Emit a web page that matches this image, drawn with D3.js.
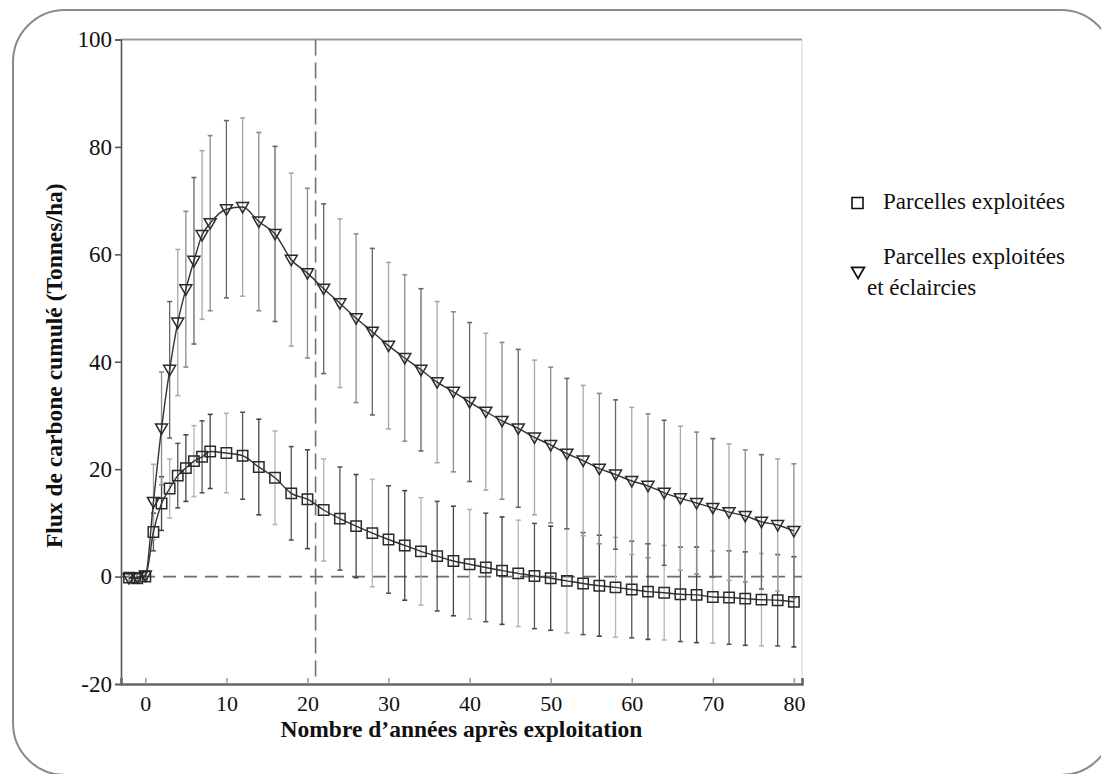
<!DOCTYPE html>
<html>
<head>
<meta charset="utf-8">
<script src="https://cdn.jsdelivr.net/npm/d3@7"></script>
<style>
  html, body { margin: 0; padding: 0; background: #fff; }
  svg { display: block; }
  text { font-family: "Liberation Serif", "Times New Roman", serif; fill: #111; }
</style>
</head>
<body>
<svg id="chart" width="1101" height="774"></svg>
<script>
// ---- data ----
const years = [-2, -1, 0, 1, 2, 3, 4, 5, 6, 7, 8,
  10, 12, 14, 16, 18, 20, 22, 24, 26, 28, 30, 32, 34, 36, 38, 40,
  42, 44, 46, 48, 50, 52, 54, 56, 58, 60, 62, 64, 66, 68, 70, 72, 74, 76, 78, 80];

const exploitees = [-0.2, -0.3, 0.0, 8.3, 13.6, 16.4, 18.8, 20.2, 21.5, 22.3, 23.3,
  23.0, 22.5, 20.4, 18.4, 15.5, 14.4, 12.4, 10.8, 9.4, 8.1, 6.9, 5.8, 4.7, 3.8, 2.9, 2.3,
  1.7, 1.1, 0.6, 0.1, -0.3, -0.8, -1.3, -1.7, -2.0, -2.4, -2.8, -3.0, -3.3, -3.4, -3.8, -3.9, -4.1, -4.3, -4.4, -4.7];
const exploiteesErr = [0.8, 0.8, 0.8, 3.5, 5.0, 5.5, 6.0, 6.2, 6.6, 6.7, 6.9,
  7.4, 8.1, 8.9, 8.7, 8.7, 9.2, 9.5, 9.6, 9.6, 10.0, 10.0, 10.2, 10.0, 10.2, 10.2, 10.2,
  10.1, 10.0, 9.9, 9.8, 9.7, 9.7, 9.5, 9.4, 9.3, 9.0, 8.9, 8.8, 8.8, 8.9, 8.6, 8.7, 8.7, 8.6, 8.5, 8.4];

const eclaircies = [-0.3, -0.1, 0.2, 13.9, 27.6, 38.5, 47.3, 53.5, 58.8, 63.6, 65.8,
  68.4, 68.8, 66.1, 63.8, 59.0, 56.5, 53.6, 50.9, 48.1, 45.6, 43.0, 40.7, 38.5, 36.2, 34.4, 32.5,
  30.7, 29.0, 27.6, 25.9, 24.5, 22.9, 21.6, 20.1, 19.0, 17.8, 16.9, 15.6, 14.6, 13.7, 12.8, 12.0, 11.3, 10.2, 9.6, 8.5];
const eclairciesErr = [0.8, 0.8, 0.8, 7.0, 10.5, 12.7, 13.6, 14.5, 15.5, 15.7, 16.3,
  16.5, 16.6, 16.6, 16.3, 16.1, 15.8, 15.8, 15.7, 15.7, 15.5, 15.5, 15.5, 15.1, 15.0, 14.9, 14.8,
  14.6, 14.6, 14.7, 14.4, 14.5, 14.0, 14.0, 14.0, 13.9, 13.7, 13.4, 13.5, 13.4, 13.2, 12.9, 12.7, 12.3, 12.5, 12.3, 12.5];

const xTicks = [0, 10, 20, 30, 40, 50, 60, 70, 80];
const yTicks = [-20, 0, 20, 40, 60, 80, 100];
const cutYear = 21;

const legendLabels = ["Parcelles exploitées", "Parcelles exploitées", "et éclaircies"];
const yTitle = "Flux de carbone cumulé (Tonnes/ha)";
const xTitle = "Nombre d’années après exploitation";

// ---- layout ----
const svg = d3.select("#chart");
const x = d3.scaleLinear().domain([-3, 81]).range([121, 802]);
const y = d3.scaleLinear().domain([-20, 100]).range([684, 39.5]);

// rounded frame
svg.append("rect")
  .attr("x", 13).attr("y", 10).attr("width", 1100).attr("height", 765)
  .attr("rx", 52).attr("ry", 52)
  .attr("fill", "none").attr("stroke", "#8a8a8a").attr("stroke-width", 2);

// top + right frame lines of plot
svg.append("line").attr("x1", x(-3)).attr("x2", x(81)).attr("y1", y(100)).attr("y2", y(100))
  .attr("stroke", "#9a9a9a").attr("stroke-width", 2);
svg.append("line").attr("x1", x(81)).attr("x2", x(81)).attr("y1", y(100)).attr("y2", y(-20))
  .attr("stroke", "#d4d4d4").attr("stroke-width", 1);

// dashed reference lines
svg.append("line").attr("x1", x(-3)).attr("x2", x(81)).attr("y1", y(0)).attr("y2", y(0))
  .attr("stroke", "#6e6e6e").attr("stroke-width", 1.8).attr("stroke-dasharray", "13,8");
svg.append("line").attr("x1", x(cutYear)).attr("x2", x(cutYear)).attr("y1", y(100)).attr("y2", y(-20))
  .attr("stroke", "#707070").attr("stroke-width", 1.6).attr("stroke-dasharray", "16,7");

// axes
const plainFmt = d => String(d);
const yAxis = d3.axisLeft(y).tickValues(yTicks).tickSize(6).tickPadding(3).tickFormat(plainFmt);
const gy = svg.append("g").attr("transform", `translate(${x(-3)},0)`).call(yAxis);
gy.select(".domain").attr("stroke", "#555").attr("stroke-width", 1.6);
gy.selectAll(".tick line").attr("stroke", "#555").attr("stroke-width", 1.6);
gy.selectAll(".tick text").attr("font-size", 23).attr("font-family", "Liberation Serif").attr("fill", "#111");

const xAxis = d3.axisBottom(x).tickValues(xTicks).tickSize(-6).tickPadding(0).tickFormat(plainFmt);
const gx = svg.append("g").attr("transform", `translate(0,${y(-20)})`).call(xAxis);
gx.select(".domain").attr("stroke", "#666").attr("stroke-width", 2.6);
gx.selectAll(".tick line").attr("stroke", "#999").attr("stroke-width", 1.5);
gx.selectAll(".tick text").attr("font-size", 22).attr("font-family", "Liberation Serif").attr("fill", "#111")
  .attr("y", 27).attr("dy", null);

// titles
svg.append("text")
  .attr("transform", `translate(62,${(y(100) + y(-20)) / 2 + 4}) rotate(-90)`)
  .attr("text-anchor", "middle").attr("font-size", 23.5).attr("font-weight", "bold")
  .text(yTitle);
svg.append("text")
  .attr("x", (x(-3) + x(81)) / 2).attr("y", 737)
  .attr("text-anchor", "middle").attr("font-size", 23.5).attr("font-weight", "bold")
  .text(xTitle);

// build series
const series = [
  { vals: exploitees, errs: exploiteesErr, sym: d3.symbolSquare, size: 108, rot: 0 },
  { vals: eclaircies, errs: eclairciesErr, sym: d3.symbolTriangle, size: 62, rot: 180 }
];
const barShades = ["#555", "#a8a8a8", "#444", "#8c8c8c", "#b4b4b4", "#666"];

// error bars
series.forEach((s, si) => {
  const g = svg.append("g");
  years.forEach((yr, i) => {
    const col = barShades[(i * 2 + si) % barShades.length];
    const cx = x(yr), y1 = y(s.vals[i] + s.errs[i]), y2 = y(s.vals[i] - s.errs[i]);
    g.append("line").attr("x1", cx).attr("x2", cx).attr("y1", y1).attr("y2", y2)
      .attr("stroke", col).attr("stroke-width", 1.3);
    [y1, y2].forEach(yy => g.append("line")
      .attr("x1", cx - 2.5).attr("x2", cx + 2.5).attr("y1", yy).attr("y2", yy)
      .attr("stroke", col).attr("stroke-width", 1.6));
  });
});

// lines
const line = d3.line().x(d => x(d[0])).y(d => y(d[1])).curve(d3.curveMonotoneX);
series.forEach(s => {
  svg.append("path").datum(years.map((yr, i) => [yr, s.vals[i]]))
    .attr("d", line).attr("fill", "none").attr("stroke", "#333").attr("stroke-width", 1.4);
});

// markers
series.forEach(s => {
  const sym = d3.symbol().type(s.sym).size(s.size);
  svg.append("g").selectAll("path").data(years.map((yr, i) => [yr, s.vals[i]]))
    .join("path")
    .attr("d", sym)
    .attr("transform", d => `translate(${x(d[0])},${y(d[1]) + (s.rot ? -1 : 0)}) rotate(${s.rot})`)
    .attr("fill", "none").attr("stroke", "#2a2a2a").attr("stroke-width", 1.5);
});

// legend
const lg = svg.append("g");
lg.append("path").attr("d", d3.symbol().type(d3.symbolSquare).size(121)())
  .attr("transform", "translate(857.5,203)").attr("fill", "none").attr("stroke", "#111").attr("stroke-width", 1.6);
lg.append("text").attr("x", 883).attr("y", 209).attr("font-size", 23).text(legendLabels[0]);
lg.append("path").attr("d", d3.symbol().type(d3.symbolTriangle).size(70)())
  .attr("transform", "translate(858,271) rotate(180)").attr("fill", "none").attr("stroke", "#111").attr("stroke-width", 1.8);
lg.append("text").attr("x", 883).attr("y", 264).attr("font-size", 23).text(legendLabels[1]);
lg.append("text").attr("x", 867).attr("y", 295).attr("font-size", 23).text(legendLabels[2]);
</script>
</body>
</html>
